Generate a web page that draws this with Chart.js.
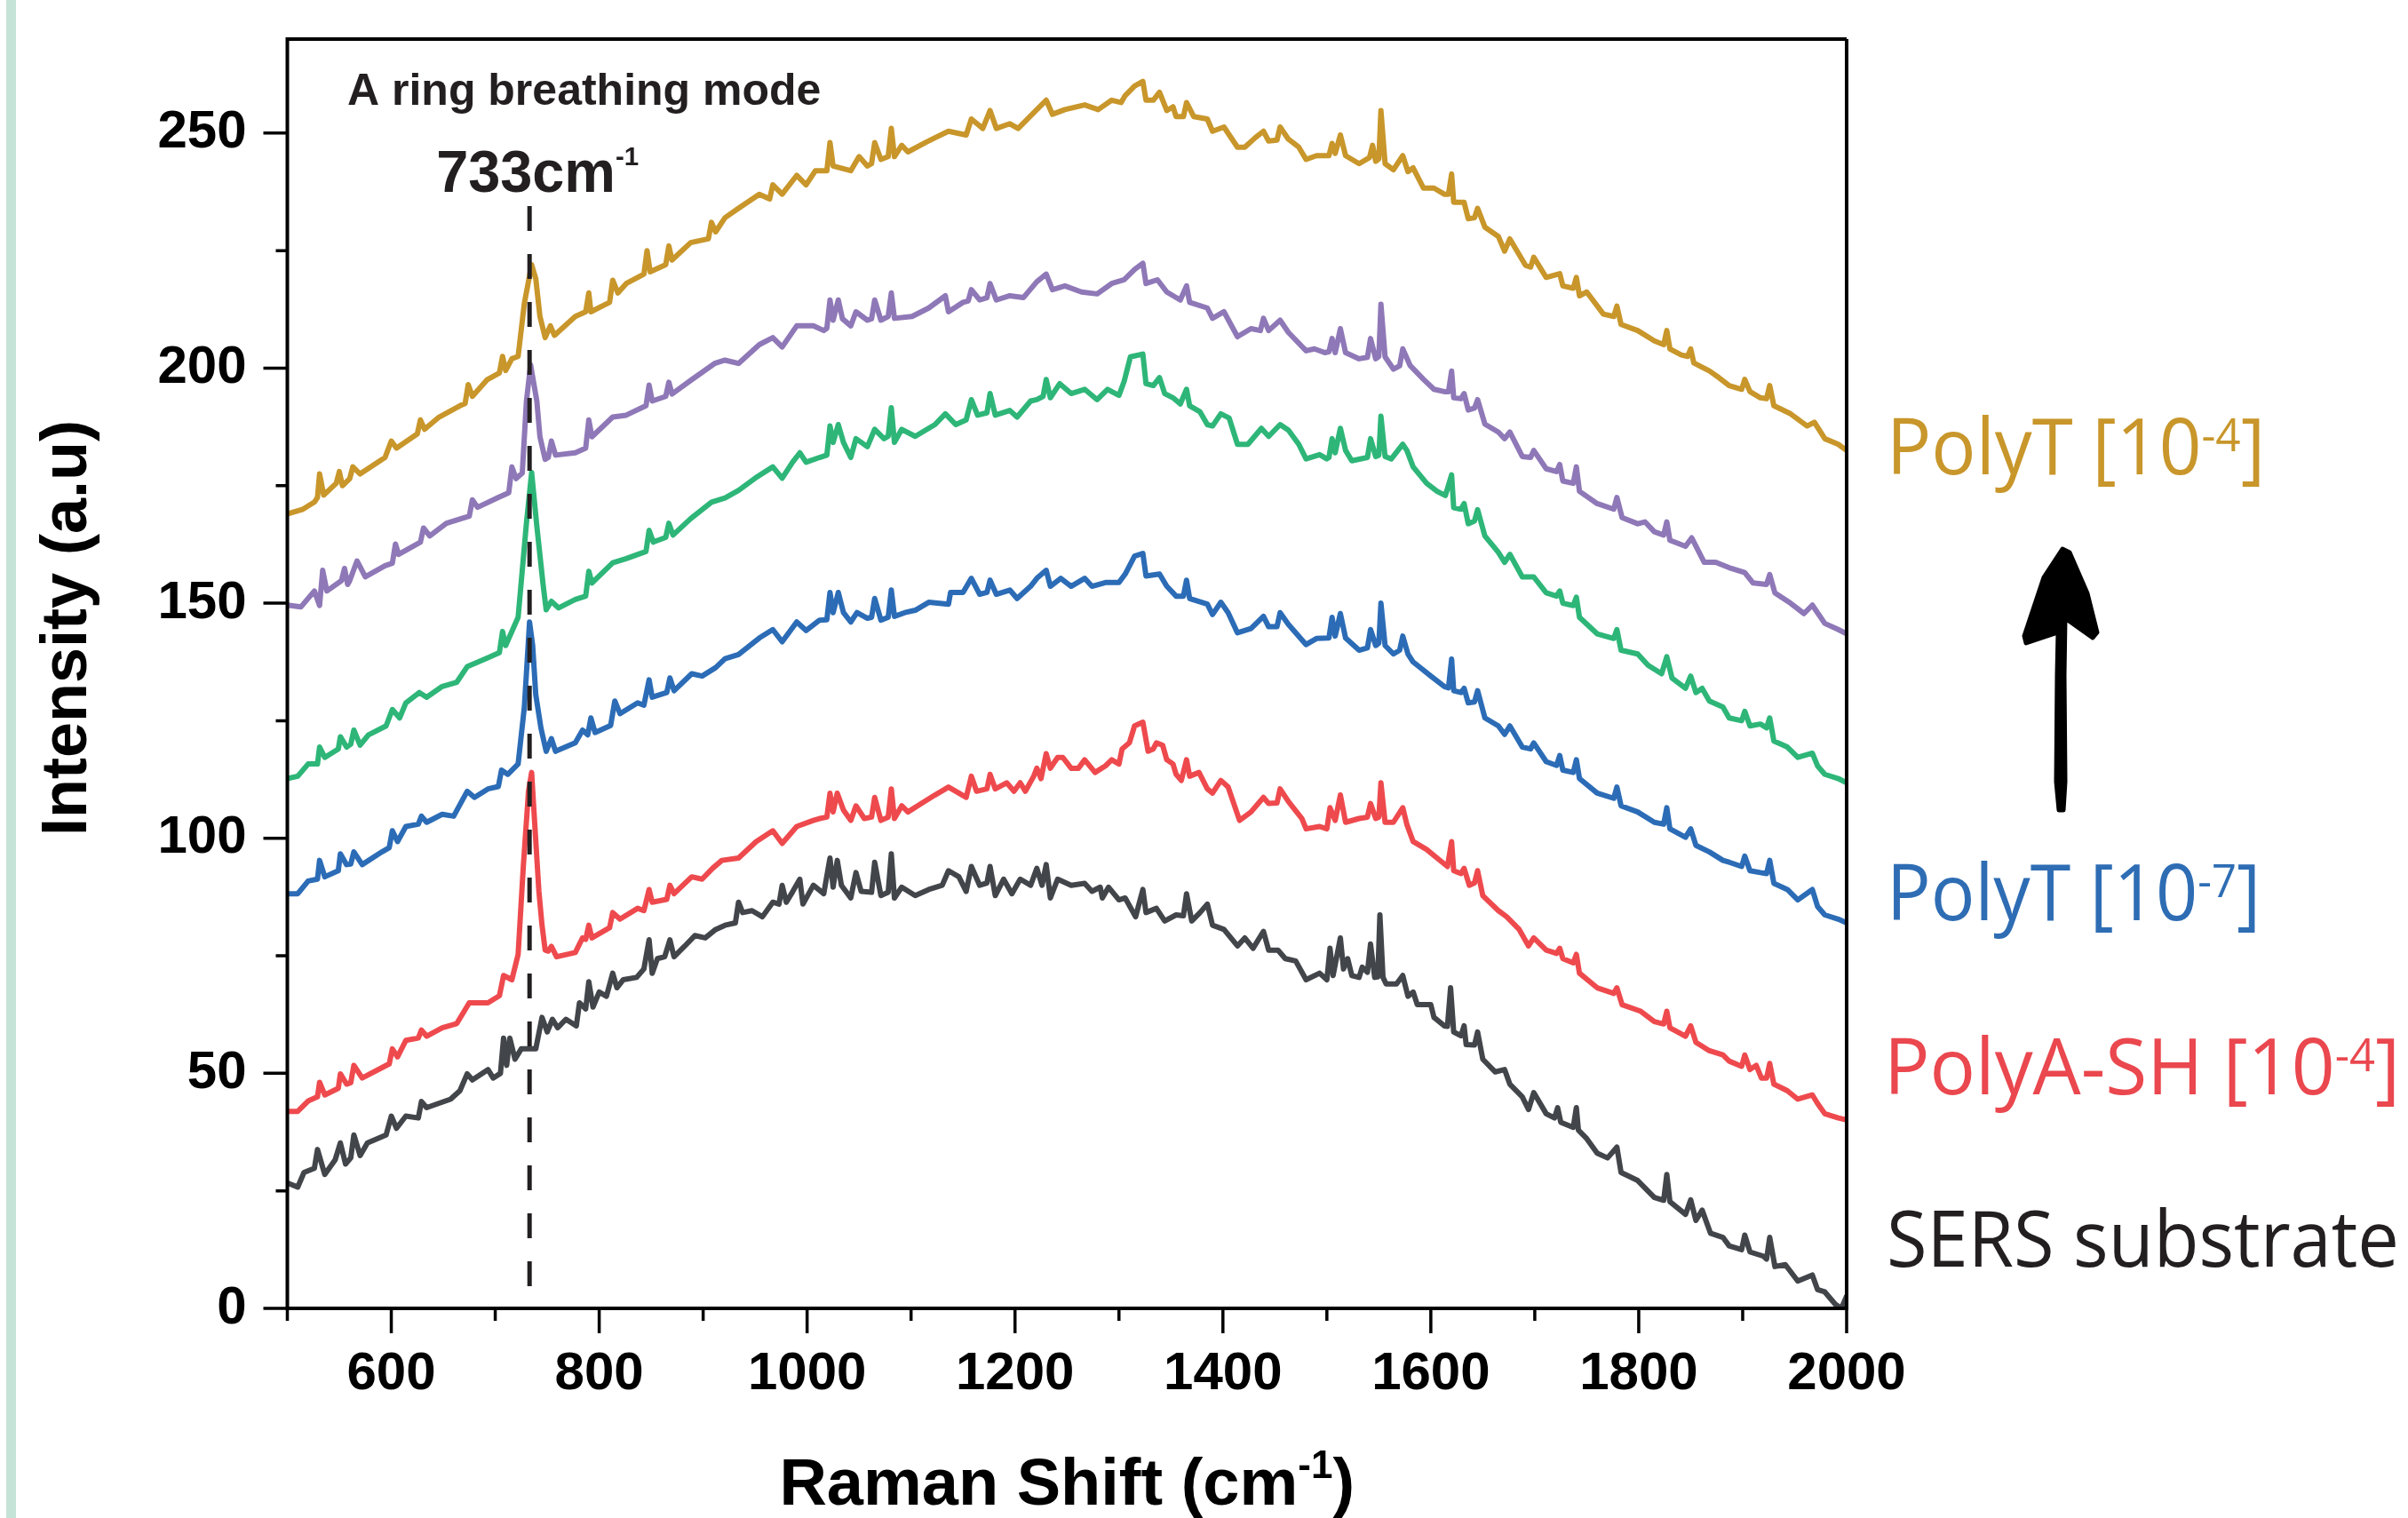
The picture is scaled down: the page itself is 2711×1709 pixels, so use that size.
<!DOCTYPE html>
<html>
<head>
<meta charset="utf-8">
<script src="https://cdn.jsdelivr.net/npm/chart.js@4.4.0/dist/chart.umd.min.js"></script>
<style>
  html, body { margin: 0; padding: 0; background: #fff; }
  canvas { display: block; }
</style>
</head>
<body>
<canvas id="raman" width="2711" height="1709"></canvas>
<script>
// axis ranges and tick labels
const wavenumberRange = [500, 2000];
const intensityRange = [0, 270];
const xTickLabels = [600, 800, 1000, 1200, 1400, 1600, 1800, 2000];
const xMinorTicks = [500, 700, 900, 1100, 1300, 1500, 1700, 1900];
const yTickLabels = [0, 50, 100, 150, 200, 250];
const yMinorTicks = [25, 75, 125, 175, 225];

// ring breathing mode marker
const peakMarker = [[733, 234.5], [733, 0]];

// spectra: [Raman shift, intensity]
const sersSubstrate = [
  [500,26.7],[510,25.8],[516,28.9],[526,29.8],[529,33.8],[536,28.5],[546,31.6],[551,35.2],[556,30.7],[561,32],[564,36.9],[570,32.5],[577,35.2],[595,36.9],[600,40.9],[605,38.3],[614,40.9],[626,40.5],[629,44],[634,42.7],[657,44.5],[666,46.3],[673,49.9],[678,48.6],[693,50.8],[698,49],[705,50],[708,57.5],[711,51.7],[714,57.5],[719,53],[725,55.2],[739,55.2],[745,61.9],[750,58.8],[755,61.5],[760,59.7],[768,61.5],[778,60.1],[781,65],[787,63.7],[790,69.5],[794,64.1],[800,67.3],[807,66.4],[813,71.3],[817,68.2],[823,69.9],[836,70.4],[843,72.2],[848,78.4],[851,71.3],[856,74.4],[863,74.8],[868,78.4],[872,74.8],[882,77],[892,79.3],[902,78.8],[912,80.6],[921,81.5],[931,82],[934,86.4],[938,84.2],[947,84.6],[957,83.3],[967,86.4],[973,86],[976,90],[980,86.4],[986,88.6],[993,91.3],[996,86],[1006,90],[1016,88.2],[1022,95.8],[1025,89.6],[1029,95.3],[1033,90],[1042,87.3],[1047,92.7],[1052,88.7],[1062,88.5],[1065,94.9],[1071,87.8],[1078,88.5],[1081,96.7],[1084,87.3],[1091,89.6],[1104,87.8],[1117,89.1],[1130,90],[1136,93.1],[1146,91.8],[1153,88.7],[1158,94],[1166,90],[1173,90.5],[1176,94],[1181,87.8],[1189,91.3],[1197,88.2],[1205,91.3],[1215,90],[1221,93.6],[1226,90],[1230,94.4],[1234,87.3],[1241,91.3],[1254,90],[1267,90.4],[1274,88.7],[1282,89.6],[1284,87.3],[1290,89.6],[1300,86.9],[1306,87.3],[1316,83.3],[1323,89.1],[1326,84.2],[1336,85.1],[1344,82.4],[1355,83.7],[1362,83.5],[1365,88.2],[1370,82.4],[1378,84.2],[1385,86],[1390,81.5],[1401,80.6],[1414,77.1],[1421,78.8],[1429,76.6],[1439,80.2],[1444,76.2],[1453,76.2],[1460,74.4],[1470,73.9],[1480,69.9],[1493,71.3],[1500,69.9],[1503,76.6],[1506,70.8],[1513,78.8],[1516,72.2],[1520,74.4],[1524,70.8],[1531,70.4],[1534,72.6],[1539,71.5],[1542,77.5],[1546,70.4],[1549,70.5],[1551,83.7],[1554,70.4],[1557,69],[1567,69],[1573,70.8],[1578,66.4],[1583,67.3],[1587,64.6],[1600,64.6],[1603,61.9],[1613,60.1],[1616,60],[1619,68.2],[1622,58.8],[1629,58],[1632,60.1],[1634,56.1],[1642,56],[1645,58.8],[1650,53],[1662,50.3],[1671,50.8],[1676,47.7],[1688,45],[1694,42.3],[1699,45.9],[1711,41.4],[1719,40.5],[1722,42.7],[1725,39.6],[1737,38.5],[1740,42.7],[1742,37.9],[1750,36.1],[1760,33],[1770,32],[1779,34.3],[1783,28.9],[1799,27.2],[1815,23.6],[1824,23],[1827,28.5],[1830,22.7],[1845,20],[1850,23.1],[1855,18.7],[1861,20.9],[1869,16],[1881,15.1],[1887,13.3],[1899,12.5],[1902,15.6],[1907,12],[1920,11.1],[1923,10.5],[1926,15.1],[1931,8.9],[1941,9.3],[1953,5.8],[1967,7.1],[1972,4],[1979,3.5],[1989,0.9],[1995,0],[2000,2.6]
];

const polyASH4 = [
  [500,41.9],[510,41.9],[520,44.1],[529,45],[531,48.1],[536,45.4],[549,46.8],[551,49.9],[557,47.7],[561,48],[564,51.7],[572,49],[591,51.2],[598,52],[601,55.2],[606,53.5],[614,57],[626,57.5],[629,59.2],[634,57.9],[649,59.7],[663,60.6],[675,65],[693,65],[704,66.5],[708,70.8],[716,69.9],[722,75.3],[727,94],[732,110],[735,114],[738,103],[742,88.7],[745,81.5],[748,76.2],[751,76],[754,77],[759,74.8],[777,75.7],[784,78.8],[787,78.5],[790,81.5],[793,78.8],[810,81],[813,84.2],[820,82.8],[837,85.1],[843,84.6],[848,89.1],[851,86.4],[865,87],[868,90],[872,88.2],[889,91.8],[899,91.3],[909,93.6],[918,95.3],[934,95.8],[951,99.3],[967,101.6],[976,98.9],[990,102.5],[1006,103.8],[1012,104.2],[1019,104.5],[1022,109.6],[1025,105.6],[1029,109.6],[1035,106],[1042,103.8],[1047,106.9],[1055,104.2],[1062,104.5],[1065,108.7],[1071,103.8],[1078,104.5],[1081,110.5],[1084,104.2],[1091,106.9],[1097,105.6],[1110,107.4],[1123,109.2],[1136,110.9],[1153,108.7],[1158,113.2],[1163,110],[1173,110.5],[1176,113.6],[1181,110.5],[1192,111.8],[1199,110],[1205,111.8],[1210,110],[1218,113.2],[1221,114.9],[1225,112.7],[1230,118],[1234,114.9],[1241,117.2],[1246,117.2],[1254,114.9],[1261,114.9],[1267,116.7],[1277,114],[1287,115.4],[1293,116.7],[1300,115.8],[1303,119],[1310,120.3],[1315,123.9],[1323,124.7],[1328,118.5],[1333,119],[1336,120.3],[1342,119.8],[1346,116.7],[1352,115.8],[1355,113.6],[1360,112.3],[1365,116.7],[1368,113.2],[1377,114],[1385,110.5],[1390,109.6],[1398,112.3],[1405,110.9],[1416,103.8],[1427,105.6],[1439,108.7],[1444,107.4],[1452,107.5],[1455,110.5],[1463,107.8],[1476,104.2],[1480,102],[1493,102.5],[1500,102],[1503,106.5],[1508,103.8],[1513,109.2],[1518,103.4],[1531,104.2],[1539,104.5],[1542,107.4],[1547,104.2],[1550,104.5],[1552,111.8],[1556,103.4],[1564,103.4],[1573,106.5],[1577,102.9],[1583,99.3],[1596,97.6],[1606,95.8],[1616,94],[1620,99.3],[1622,93.1],[1629,92.5],[1632,93.6],[1637,90],[1642,90.5],[1645,93.1],[1650,87.8],[1665,84.6],[1673,83.3],[1685,80.6],[1694,77.1],[1699,78.8],[1711,76.2],[1721,75.5],[1724,76.6],[1727,74.4],[1737,73.5],[1740,75.3],[1743,71.3],[1760,68.2],[1776,67],[1779,68.2],[1784,64.6],[1802,63.2],[1815,61],[1824,60.5],[1827,63.2],[1830,59.7],[1845,57.9],[1850,60.1],[1855,56.6],[1868,54.8],[1881,53.9],[1887,52.6],[1899,51.5],[1902,53.9],[1907,50.8],[1913,51.7],[1918,49],[1923,49],[1926,52.1],[1930,47.7],[1943,46.3],[1953,44.5],[1967,45.4],[1972,43.6],[1979,41.4],[1992,40.5],[2000,40.1]
];

const polyT7 = [
  [500,88.2],[510,88.2],[520,90.9],[529,91.3],[531,95.3],[536,91.8],[549,93.1],[551,96.7],[557,94.4],[561,94.5],[564,97.1],[572,94.4],[591,97.1],[598,98],[601,101.6],[606,99.3],[614,102.5],[626,103],[629,104.7],[634,103.4],[649,105.1],[660,104.7],[673,110],[680,108.7],[693,110.5],[703,111],[706,114.5],[712,113.6],[722,115.8],[728,127.9],[733,146],[736,141],[739,130.5],[744,123.4],[749,118.5],[754,121.2],[758,118.5],[777,120.3],[784,123],[789,122],[792,125.6],[796,122.5],[811,124],[815,129.2],[820,126.5],[837,128.8],[843,128.3],[848,133.7],[851,130],[865,131],[868,134.1],[872,131.4],[889,135],[899,134.5],[912,136.3],[921,138.2],[934,139.1],[954,142.6],[967,144.4],[976,141.8],[990,146],[999,144.2],[1012,146.4],[1019,146.5],[1022,152.3],[1025,148],[1030,152.3],[1035,148],[1042,146],[1048,148],[1058,146.8],[1062,147],[1065,151],[1071,146.4],[1078,147],[1081,152.8],[1084,147.2],[1094,148],[1104,148.5],[1117,150.2],[1136,149.8],[1138,152.3],[1150,152.3],[1158,155.3],[1166,151.9],[1173,152.3],[1176,154.9],[1182,151.9],[1195,152.8],[1202,151],[1215,153.6],[1221,155.3],[1230,157],[1234,153.6],[1244,155.3],[1254,153.6],[1267,155.3],[1274,153.6],[1287,154.4],[1300,154.4],[1306,156.2],[1315,160],[1323,160.6],[1326,155.8],[1339,156.2],[1346,153.6],[1355,151.5],[1362,151.5],[1365,154.9],[1368,151],[1385,149.8],[1390,147.6],[1398,150.2],[1405,148],[1414,143.7],[1427,144.6],[1439,147.2],[1444,145],[1452,145],[1455,148],[1463,145.5],[1480,141.2],[1490,142.5],[1502,142.6],[1505,147],[1508,143],[1513,147.8],[1518,142.6],[1531,140],[1539,140.5],[1542,144.4],[1547,141],[1550,141.5],[1552,150],[1556,141],[1564,139.2],[1570,140],[1573,143],[1578,139.2],[1583,137.5],[1600,134.5],[1613,132.3],[1617,132],[1620,138.1],[1622,131.4],[1629,131],[1632,131.9],[1636,128.8],[1642,129],[1645,131.4],[1652,125.6],[1665,123.9],[1671,122.1],[1676,123.9],[1688,119.4],[1696,119],[1699,120.3],[1711,116.3],[1721,115.5],[1724,117.6],[1727,114.5],[1737,114],[1740,116.7],[1743,112.7],[1760,109.6],[1776,108.5],[1779,110.9],[1783,106.9],[1799,105.6],[1815,103.4],[1824,103],[1827,106.5],[1830,102],[1845,100.2],[1850,102],[1855,98.5],[1868,97.1],[1881,95.3],[1887,94.9],[1899,94],[1902,96.2],[1907,93.1],[1917,92.7],[1923,92.5],[1926,95.3],[1930,90.4],[1943,89.1],[1953,86.9],[1967,89.1],[1972,85.5],[1979,83.7],[1992,82.8],[2000,82]
];

const polyT6 = [
  [500,112.7],[510,113.2],[520,115.8],[529,115.8],[531,119.4],[536,117.2],[549,119],[551,121.6],[557,119.4],[561,120],[564,123],[570,119.8],[578,122],[595,123.9],[601,127.4],[608,125.6],[614,128.8],[627,131],[634,130],[649,132.3],[663,133.2],[673,136.5],[692,138.3],[704,139.5],[707,144],[710,141],[722,147],[730,167],[735,177.8],[740,166.4],[746,154],[749,148.6],[754,150.4],[761,149],[777,150.8],[787,151.5],[790,156.8],[793,154.3],[813,158.6],[826,159.5],[845,161],[848,165.5],[852,163],[864,164],[867,167],[871,164.5],[888,168],[908,171.5],[921,172.4],[934,174],[950,176.6],[967,179],[976,176.6],[986,180],[993,182],[999,180],[1012,181],[1019,181.5],[1022,187.7],[1025,184.2],[1030,188],[1035,184.2],[1042,181],[1047,185],[1058,183.3],[1065,187],[1074,185],[1078,185.5],[1081,191.6],[1084,184.2],[1091,187],[1104,185.5],[1123,188],[1133,190.3],[1143,188],[1153,189],[1158,193.3],[1164,190],[1173,190.5],[1176,194.6],[1181,190],[1195,191],[1202,189.6],[1215,193],[1221,193.3],[1227,194],[1230,197.6],[1234,193.7],[1243,196.7],[1254,194.6],[1267,195.5],[1279,193.3],[1289,195.5],[1300,194.2],[1305,197.2],[1311,202.4],[1323,203],[1326,196.7],[1333,196.3],[1339,198],[1344,194.6],[1352,193.7],[1359,192.4],[1365,195.5],[1368,192],[1378,190.7],[1385,188],[1390,187.7],[1398,190.3],[1406,189.4],[1414,183.8],[1424,183.8],[1437,187.2],[1444,185.5],[1455,188],[1463,186.8],[1473,183.8],[1480,180.7],[1493,181.6],[1500,180.7],[1502,181],[1505,185],[1508,182],[1513,187.2],[1518,182.5],[1524,180.3],[1539,181],[1542,185],[1547,181.2],[1550,181.5],[1552,189.8],[1556,181.2],[1562,180.7],[1573,183.8],[1577,182.5],[1583,179],[1596,175.5],[1606,173.8],[1614,172.9],[1620,177.3],[1622,170.3],[1629,170],[1632,171.2],[1636,166.9],[1642,167.5],[1645,169.9],[1652,164.3],[1665,160.8],[1671,158.7],[1676,160.4],[1688,155.6],[1699,155.6],[1711,152.2],[1721,151.5],[1724,152.6],[1727,150],[1737,149.5],[1740,151.3],[1743,147],[1760,143.5],[1776,142.5],[1779,144.4],[1783,140],[1799,139.2],[1809,136.8],[1822,135],[1827,138.6],[1832,134.1],[1845,131.9],[1850,134.5],[1855,131],[1861,131.9],[1868,129.2],[1881,127.9],[1887,125.6],[1899,125],[1902,127],[1907,123.9],[1917,124.3],[1923,123.5],[1926,125.6],[1930,120.7],[1943,119.4],[1953,117.2],[1967,118.1],[1972,115.4],[1979,113.6],[1992,112.7],[2000,111.8]
];

const polyT5 = [
  [500,149.6],[513,149.2],[526,152.6],[531,149.5],[534,157],[538,152.6],[552,154.8],[555,157.4],[558,154],[560,154.8],[567,159],[575,155.6],[594,158],[601,158.5],[604,162.6],[607,160.4],[628,163],[631,166],[637,164.3],[653,167],[670,168.2],[675,168.5],[678,172],[683,170.4],[703,172.5],[713,173.5],[716,179],[720,176.5],[726,177.7],[730,193],[734,200.7],[740,193],[743,185.4],[748,180.6],[751,181],[754,184.5],[758,181.5],[777,182],[787,183],[790,189],[793,185.4],[813,189.6],[826,190],[845,192],[848,196.4],[851,193],[864,194],[867,197],[870,194.5],[888,197.4],[911,201],[921,201.7],[934,201],[954,205],[967,206.5],[976,204.5],[990,209],[1006,209],[1016,208],[1019,208.5],[1022,214.5],[1025,210.2],[1030,214.5],[1034,210.5],[1042,209],[1047,212],[1058,210.2],[1062,210.5],[1065,214.5],[1071,210.2],[1078,211],[1081,216],[1084,210.6],[1101,211],[1117,212.8],[1133,215.4],[1136,212],[1150,214],[1155,214.3],[1158,216.7],[1166,214.5],[1173,215],[1176,218],[1182,214.5],[1195,215.4],[1208,215],[1221,218.4],[1230,220],[1236,216.7],[1248,217.5],[1264,216.2],[1279,215.8],[1293,218],[1305,218.8],[1315,221],[1323,222.3],[1326,218],[1337,218.8],[1346,216.2],[1359,214.5],[1365,217.5],[1368,214],[1385,212.8],[1390,210.6],[1401,212],[1414,206.7],[1427,208.4],[1436,208],[1439,210.6],[1444,208],[1455,210.2],[1463,207.6],[1480,203.7],[1488,204.1],[1498,203.3],[1502,203.5],[1505,206.3],[1508,203.3],[1513,208.4],[1518,203.3],[1531,202],[1539,202.3],[1542,206.3],[1547,202],[1550,202.5],[1552,213.6],[1556,202.4],[1564,199.8],[1570,200.5],[1573,204.1],[1580,200.6],[1593,197.6],[1603,195.5],[1613,195],[1617,195],[1620,199.4],[1622,193.7],[1629,193.5],[1632,194.6],[1636,191.1],[1642,191.5],[1645,193.3],[1652,188.1],[1665,186.4],[1671,185],[1676,186.4],[1688,181.2],[1696,181],[1699,182.5],[1711,178.6],[1721,178],[1724,179.5],[1727,176],[1737,175.5],[1740,179],[1743,173.8],[1760,171.2],[1776,170],[1779,172.5],[1784,168.2],[1799,166.9],[1806,167.3],[1815,165.2],[1824,164.5],[1827,167.3],[1830,163.4],[1845,162.1],[1851,163.9],[1863,158.7],[1874,158.7],[1889,157.4],[1902,156.5],[1910,154.3],[1923,154],[1926,156.1],[1931,152.2],[1946,150],[1959,147.8],[1967,149.6],[1979,145.7],[1992,144.4],[2000,143.5]
];

const polyT4 = [
  [500,169],[515,170],[526,171.5],[529,172.5],[531,177.5],[535,173],[547,175.5],[550,178],[553,175],[560,176.5],[563,179],[570,177.5],[594,181],[600,184.5],[605,183],[625,186],[628,189],[632,187],[646,189.6],[666,192],[671,192.5],[674,196.5],[678,194],[692,197.5],[704,199],[707,202.5],[710,199.5],[716,202],[722,202.5],[728,213.8],[735,222],[739,219],[743,211],[748,206.5],[753,209],[757,207],[777,211],[787,212],[790,216],[792,212],[810,214],[813,218.7],[818,216],[826,218],[843,220],[846,225],[849,220.5],[864,222],[867,226],[870,223],[888,226.7],[905,227.5],[908,231],[912,229],[921,232],[934,234],[954,237],[964,236],[967,239],[976,237],[990,241],[999,239],[1008,242],[1019,242],[1022,248],[1025,243],[1042,242],[1050,245],[1058,243],[1062,243.5],[1065,248],[1071,244.4],[1078,245],[1081,251],[1084,245],[1091,247.4],[1097,246],[1114,248],[1123,249],[1136,250.4],[1153,249.6],[1158,253],[1169,251],[1176,254.8],[1182,251],[1195,252],[1203,251],[1221,255],[1230,257],[1236,254],[1248,255],[1267,256],[1280,255],[1293,257],[1302,256.5],[1306,258],[1315,260],[1323,261],[1326,257],[1333,257],[1339,258.7],[1346,254.8],[1352,255.6],[1355,253.5],[1362,253.5],[1365,256.5],[1372,253.5],[1385,253],[1390,250.4],[1401,251.3],[1414,247],[1421,247],[1431,249],[1439,250.4],[1444,248.3],[1452,248.5],[1455,251.3],[1463,248.7],[1473,247],[1480,244.4],[1490,245.2],[1502,245.2],[1505,247.8],[1508,245.7],[1513,249.6],[1518,245.2],[1531,243.5],[1541,244.8],[1544,247.4],[1547,244],[1550,244.5],[1552,254.8],[1556,243.5],[1564,242.2],[1573,245.2],[1578,241.8],[1583,242.6],[1593,238.3],[1603,238.3],[1613,237],[1617,237],[1620,241.3],[1622,235.3],[1632,235.3],[1636,231.8],[1642,232],[1645,234],[1652,230],[1665,228],[1671,224.9],[1676,227.5],[1691,221.9],[1696,221.5],[1699,223.6],[1711,219.3],[1724,220.1],[1727,217.5],[1737,217],[1740,219.3],[1743,215.4],[1750,216.2],[1766,211.5],[1776,211],[1779,213.2],[1783,209.3],[1799,208],[1815,205.8],[1824,205],[1827,208],[1830,204.1],[1841,202.8],[1847,202.5],[1850,204.1],[1853,201.1],[1868,199.4],[1877,198],[1887,196.3],[1899,195.5],[1902,197.6],[1907,195],[1917,193.7],[1923,193.5],[1926,196.3],[1930,192],[1946,190.3],[1962,187.7],[1969,188.5],[1979,185],[1992,183.8],[2000,182.5]
];

const seriesLabels = ['SERS substrate', 'PolyA-SH [10-4]', 'PolyT [10-7]', 'PolyT', 'PolyT', 'PolyT [10-4]'];
const seriesColors = ['#42464a', '#ee4a4e', '#2c6cb6', '#2eb678', '#8f78b7', '#c8962a'];
const seriesData = [sersSubstrate, polyASH4, polyT7, polyT6, polyT5, polyT4];

const boldFont = 'Liberation Sans, Arial, sans-serif';
const labelFont = 'Open Sans, Noto Sans, sans-serif';
const ink = '#231f20';

function toPoints(pairs) {
  return pairs.map(p => ({ x: p[0], y: p[1] }));
}

// draw text parts with superscripts, squeezed to a target width
function drawParts(ctx, parts, x, baseline, color, targetWidth, size, supSize, supRise, weight) {
  ctx.save();
  ctx.fillStyle = color;
  ctx.textBaseline = 'alphabetic';
  ctx.textAlign = 'left';
  let total = 0;
  parts.forEach(p => {
    ctx.font = `${weight} ${p.sup ? supSize : size}px ${p.family}`;
    p.w = ctx.measureText(p.t).width;
    total += p.w;
  });
  const sx = targetWidth ? targetWidth / total : 1;
  ctx.translate(x, baseline);
  ctx.scale(sx, 1);
  let cx = 0;
  parts.forEach(p => {
    ctx.font = `${weight} ${p.sup ? supSize : size}px ${p.family}`;
    ctx.fillText(p.t, cx, p.sup ? -supRise : 0);
    cx += p.w;
  });
  ctx.restore();
  return total * sx;
}

const decorations = {
  id: 'decorations',
  beforeDraw(chart) {
    const ctx = chart.ctx;
    ctx.save();
    ctx.fillStyle = '#c5e3d6';
    ctx.fillRect(7, 0, 11, chart.height);
    ctx.restore();
  },
  afterDraw(chart) {
    const { ctx, chartArea: a, scales: { x, y } } = chart;
    ctx.save();

    // frame
    ctx.strokeStyle = '#000';
    ctx.lineWidth = 4;
    ctx.lineCap = 'butt';
    ctx.beginPath();
    ctx.moveTo(a.left, a.top); ctx.lineTo(a.right, a.top);
    ctx.moveTo(a.right, a.top); ctx.lineTo(a.right, a.bottom);
    ctx.moveTo(a.left - 2, a.bottom); ctx.lineTo(a.right + 2, a.bottom);
    ctx.moveTo(a.left, a.top - 2); ctx.lineTo(a.left, a.bottom + 2);
    ctx.stroke();

    // ticks
    ctx.lineWidth = 3.5;
    ctx.beginPath();
    xTickLabels.forEach(v => { const px = x.getPixelForValue(v); ctx.moveTo(px, a.bottom); ctx.lineTo(px, a.bottom + 28); });
    xMinorTicks.forEach(v => { const px = x.getPixelForValue(v); ctx.moveTo(px, a.bottom); ctx.lineTo(px, a.bottom + 14); });
    yTickLabels.forEach(v => { const py = y.getPixelForValue(v); ctx.moveTo(a.left - 27, py); ctx.lineTo(a.left, py); });
    yMinorTicks.forEach(v => { const py = y.getPixelForValue(v); ctx.moveTo(a.left - 13, py); ctx.lineTo(a.left, py); });
    ctx.stroke();

    // axis titles
    ctx.fillStyle = '#000';
    ctx.save();
    ctx.translate(97, 707);
    ctx.rotate(-Math.PI / 2);
    ctx.font = `bold 72px ${boldFont}`;
    ctx.textAlign = 'center';
    ctx.fillText('Intensity (a.u)', 0, 0);
    ctx.restore();

    const xTitle = [
      { t: 'Raman Shift (cm', family: boldFont },
      { t: '-1', family: boldFont, sup: true },
      { t: ')', family: boldFont }
    ];
    ctx.font = `bold 74px ${boldFont}`;
    let w = ctx.measureText('Raman Shift (cm)').width;
    ctx.font = `bold 44px ${boldFont}`;
    w += ctx.measureText('-1').width;
    drawParts(ctx, xTitle, (a.left + a.right) / 2 - w / 2, 1694, '#000', null, 74, 44, 30, 'bold');

    // annotation
    ctx.fillStyle = ink;
    ctx.font = `bold 50px ${boldFont}`;
    ctx.textAlign = 'left';
    ctx.fillText('A ring breathing mode', 391, 118);
    const peakX = x.getPixelForValue(peakMarker[0][0]);
    drawParts(ctx, [
      { t: '733cm', family: boldFont },
      { t: '-1', family: boldFont, sup: true }
    ], peakX - 105, 216, ink, 228, 66, 30, 30, 'bold');

    // series labels on the right
    const lx = a.right + 45;
    drawParts(ctx, [
      { t: 'PolyT [10', family: labelFont }, { t: '-4', family: labelFont, sup: true }, { t: ']', family: labelFont }
    ], lx, 534, '#c8962a', 426, 88, 52, 26, 'normal');
    drawParts(ctx, [
      { t: 'PolyT [10', family: labelFont }, { t: '-7', family: labelFont, sup: true }, { t: ']', family: labelFont }
    ], lx, 1036, '#2e6db4', 421, 88, 52, 26, 'normal');
    drawParts(ctx, [
      { t: 'PolyA-SH [10', family: labelFont }, { t: '-4', family: labelFont, sup: true }, { t: ']', family: labelFont }
    ], lx - 3, 1232, '#ea474e', 581, 88, 52, 26, 'normal');
    drawParts(ctx, [
      { t: 'SERS substrate', family: labelFont }
    ], lx, 1426, ink, 577, 88, 52, 26, 'normal');

    // arrow
    ctx.fillStyle = '#000';
    ctx.strokeStyle = '#000';
    ctx.lineJoin = 'round';
    ctx.lineWidth = 5;
    ctx.beginPath();
    ctx.moveTo(2318, 912);
    ctx.lineTo(2315, 880);
    ctx.lineTo(2316, 760);
    ctx.lineTo(2317, 712);
    ctx.lineTo(2281, 724);
    ctx.lineTo(2279, 716);
    ctx.lineTo(2301, 650);
    ctx.lineTo(2322, 618);
    ctx.lineTo(2330, 622);
    ctx.lineTo(2350, 668);
    ctx.lineTo(2361, 712);
    ctx.lineTo(2356, 718);
    ctx.lineTo(2325, 696);
    ctx.lineTo(2324, 760);
    ctx.lineTo(2325, 880);
    ctx.lineTo(2323, 912);
    ctx.closePath();
    ctx.fill();
    ctx.stroke();

    ctx.restore();
  }
};

document.addEventListener('DOMContentLoaded', function() {
  const ctx = document.getElementById('raman').getContext('2d');

  const datasets = seriesData.map((pairs, i) => ({
    label: seriesLabels[i],
    data: toPoints(pairs),
    borderColor: seriesColors[i],
    borderWidth: 6,
    pointRadius: 0,
    tension: 0,
    borderJoinStyle: 'round',
    borderCapStyle: 'round',
    order: 2
  }));
  datasets.push({
    label: '733',
    data: toPoints(peakMarker),
    borderColor: ink,
    borderWidth: 5,
    borderDash: [28, 26],
    pointRadius: 0,
    order: 1
  });

  new Chart(ctx, {
    type: 'line',
    data: { datasets: datasets },
    options: {
      responsive: false,
      animation: false,
      devicePixelRatio: 1,
      layout: { padding: { left: 0, right: 632, top: 44, bottom: 0 } },
      plugins: { legend: { display: false }, tooltip: { enabled: false } },
      scales: {
        x: {
          type: 'linear',
          min: wavenumberRange[0],
          max: wavenumberRange[1],
          border: { display: false },
          grid: { drawOnChartArea: false, tickLength: 28, tickColor: 'rgba(0,0,0,0)' },
          ticks: {
            stepSize: 100,
            autoSkip: false,
            maxRotation: 0,
            padding: 10,
            color: '#000',
            font: { family: boldFont, weight: 'bold', size: 60 },
            callback: v => xTickLabels.includes(v) ? String(v) : ''
          },
          afterFit: s => { s.height = 236; s.paddingLeft = 0; s.paddingRight = 0; }
        },
        y: {
          min: intensityRange[0],
          max: intensityRange[1],
          border: { display: false },
          grid: { drawOnChartArea: false, tickLength: 27, tickColor: 'rgba(0,0,0,0)' },
          ticks: {
            stepSize: 25,
            autoSkip: false,
            padding: 19,
            color: '#000',
            font: { family: boldFont, weight: 'bold', size: 60 },
            callback: v => yTickLabels.includes(v) ? String(v) : ''
          },
          afterFit: s => { s.width = 323.5; s.paddingTop = 0; s.paddingBottom = 0; }
        }
      }
    },
    plugins: [decorations]
  });
});
</script>
</body>
</html>
